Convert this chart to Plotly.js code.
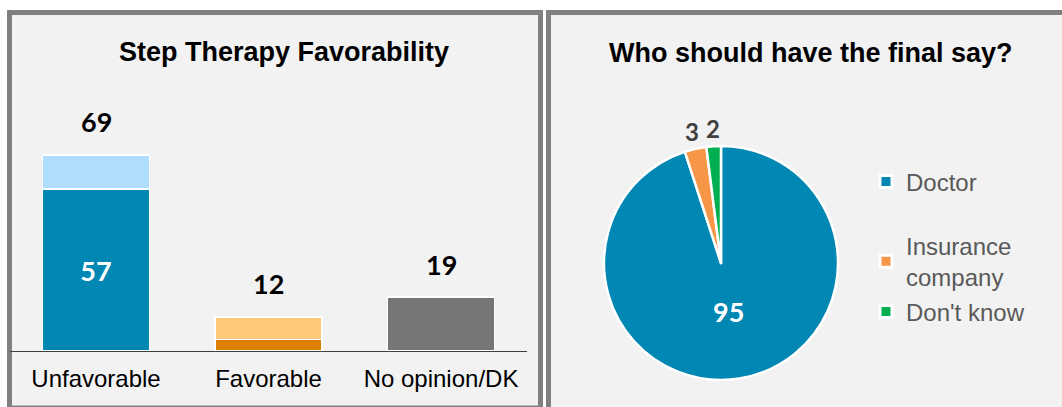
<!DOCTYPE html>
<html>
<head>
<meta charset="utf-8">
<script src="https://cdn.plot.ly/plotly-3.0.1.min.js"></script>
<style>
  html, body { margin: 0; padding: 0; background: #ffffff; }
  #chart { width: 1062px; height: 407px; }
</style>
</head>
<body>
<div id="chart"></div>
<script>
// ---- Data ----
const categories = ['Unfavorable', 'Favorable', 'No opinion/DK'];
const strongValues = [57, 4, 19];
const somewhatValues = [12, 8, null];
const strongColors = ['#0087B4', '#E08000', '#767676'];
const somewhatColors = ['#AEDDFD', '#FFC97B', '#767676'];

const pieLabels = ['Doctor', 'Insurance<br>company', "Don't know"];
const pieValues = [95, 3, 2];
const pieColors = ['#0087B4', '#F79646', '#00B050'];
const pieLabelInside = [true, false, false];

const leftTitle = 'Step Therapy Favorability';
const rightTitle = 'Who should have the final say?';

// ---- Helpers ----
const W = 1062, H = 407;
const px = v => v / W;
const py = v => 1 - v / H;
const totals = strongValues.map((v, i) => v + (somewhatValues[i] || 0));

const NUMFONT = 'Lato, "Open Sans", sans-serif';
const ARIAL = '"Liberation Sans", Arial, sans-serif';

// pie geometry (pixels)
const pieBox = { x0: 604, x1: 838, y0: 146, y1: 380 };
const pieCx = (pieBox.x0 + pieBox.x1) / 2;
const pieCy = (pieBox.y0 + pieBox.y1) / 2;
const pieR = Math.min(pieBox.x1 - pieBox.x0, pieBox.y1 - pieBox.y0) / 2;

const traces = [
  {
    type: 'bar',
    x: categories,
    y: strongValues,
    marker: { color: strongColors, line: { color: '#ffffff', width: 1.5 } },
    text: strongValues.map((v, i) => (i === 0 ? String(v) : '')),
    textposition: 'inside',
    insidetextanchor: 'middle',
    textfont: { family: NUMFONT, size: 27, color: '#ffffff', weight: 700 },
    hoverinfo: 'skip',
    showlegend: false
  },
  {
    type: 'bar',
    x: categories,
    y: somewhatValues,
    marker: { color: somewhatColors, line: { color: '#ffffff', width: 1.5 } },
    hoverinfo: 'skip',
    showlegend: false
  },
  {
    type: 'pie',
    labels: pieLabels,
    values: pieValues,
    sort: false,
    direction: 'clockwise',
    rotation: 0,
    marker: { colors: pieColors, line: { color: '#ffffff', width: 2.5 } },
    textinfo: 'none',
    domain: { x: [px(pieBox.x0), px(pieBox.x1)], y: [py(pieBox.y1), py(pieBox.y0)] },
    showlegend: false,
    hoverinfo: 'skip'
  }
];

const legendIds = ['legend', 'legend2', 'legend3'];
pieLabels.forEach((lab, i) => {
  traces.push({
    type: 'scatter',
    x: [null], y: [null],
    mode: 'markers',
    name: lab,
    legend: legendIds[i],
    marker: { symbol: 'square', size: 12, color: pieColors[i], line: { color: '#ffffff', width: 3 } },
    hoverinfo: 'skip',
    showlegend: true
  });
});

const legendFont = { family: ARIAL, size: 24, color: '#595959' };
const legendCenters = [182, 261.5, 312];
const legendBase = (yc) => ({
  x: px(866), xanchor: 'left',
  y: py(yc), yanchor: 'middle',
  bgcolor: 'rgba(0,0,0,0)',
  font: legendFont,
  itemclick: false, itemdoubleclick: false
});

const annotations = [
  {
    text: leftTitle, xref: 'paper', yref: 'paper',
    x: px(284), y: py(52), xanchor: 'center', yanchor: 'middle',
    showarrow: false,
    font: { family: ARIAL, size: 27, color: '#000000', weight: 700 }
  },
  {
    text: rightTitle, xref: 'paper', yref: 'paper',
    x: px(811), y: py(53), xanchor: 'center', yanchor: 'middle',
    showarrow: false,
    font: { family: ARIAL, size: 27, color: '#000000', weight: 700 }
  }
];
categories.forEach((c, i) => {
  annotations.push({
    text: String(totals[i]), xref: 'x', yref: 'y',
    x: c, y: totals[i], xanchor: 'center', yanchor: 'middle',
    yshift: 33, showarrow: false,
    font: { family: NUMFONT, size: 27, color: '#000000', weight: 700 }
  });
});

// pie value labels placed from slice mid-angles (clockwise from 12 o'clock)
const pieTotal = pieValues.reduce((a, b) => a + b, 0);
let cum = 0;
pieValues.forEach((v, i) => {
  const mid = (cum + v / 2) / pieTotal * 2 * Math.PI;
  cum += v;
  const d = pieLabelInside[i] ? pieR * 0.42 : pieR + 18;
  const lx = pieCx + d * Math.sin(mid);
  const ly = pieCy - d * Math.cos(mid);
  annotations.push({
    text: String(v), xref: 'paper', yref: 'paper',
    x: px(lx), y: py(ly), xanchor: 'center', yanchor: 'middle',
    showarrow: false,
    font: pieLabelInside[i]
      ? { family: NUMFONT, size: 27, color: '#ffffff', weight: 700 }
      : { family: NUMFONT, size: 24, color: '#404040', weight: 700 }
  });
});

const layout = {
  width: W, height: H,
  margin: { l: 0, r: 0, t: 0, b: 0 },
  paper_bgcolor: '#ffffff',
  plot_bgcolor: 'rgba(0,0,0,0)',
  barmode: 'stack',
  bargap: 0.38,
  xaxis: {
    domain: [px(9.75), px(527.25)],
    type: 'category',
    range: [-0.5, 2.5],
    showline: true, linecolor: '#404040', linewidth: 1,
    ticks: '', showgrid: false, zeroline: false,
    tickfont: { family: ARIAL, size: 24, color: '#000000' },
    ticklabelstandoff: 6,
    fixedrange: true
  },
  yaxis: {
    domain: [py(351), py(66.8)],
    range: [0, 100],
    visible: false,
    showgrid: false, zeroline: false,
    fixedrange: true
  },
  shapes: [
    {
      type: 'rect', xref: 'paper', yref: 'paper', layer: 'below',
      x0: px(9.5), x1: px(540.5), y0: py(408), y1: py(12.5),
      fillcolor: '#f2f2f2', line: { color: '#808080', width: 5 }
    },
    {
      type: 'rect', xref: 'paper', yref: 'paper', layer: 'below',
      x0: px(548.5), x1: px(1080), y0: py(425), y1: py(12.5),
      fillcolor: '#f2f2f2', line: { color: '#808080', width: 5 }
    }
  ],
  annotations: annotations,
  legend: legendBase(legendCenters[0]),
  legend2: legendBase(legendCenters[1]),
  legend3: legendBase(legendCenters[2]),
  hovermode: false
};

Plotly.newPlot('chart', traces, layout, { displayModeBar: false, staticPlot: true });
</script>
</body>
</html>
